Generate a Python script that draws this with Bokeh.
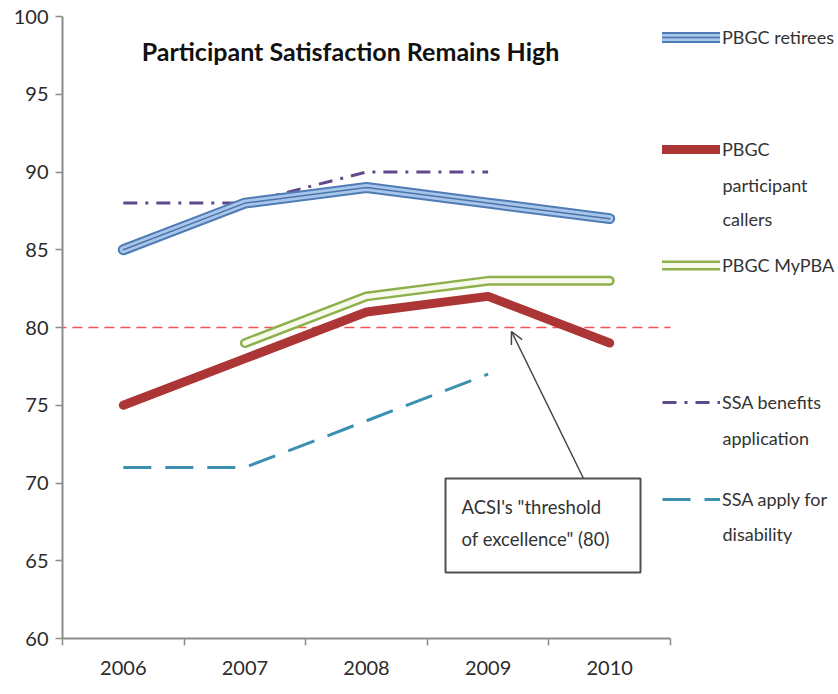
from bokeh.plotting import figure
from bokeh.models import (Range1d, FixedTicker, Legend, LegendItem, Label,
                          BoxAnnotation, Arrow, OpenHead)
from bokeh.embed import file_html
from bokeh.resources import INLINE

# ---------------- data ----------------
years = ["2006", "2007", "2008", "2009", "2010"]
pbgc_retirees = [85, 88, 89, 88, 87]
pbgc_callers = [75, 78, 81, 82, 79]
mypba_years = ["2007", "2008", "2009", "2010"]
pbgc_mypba = [79, 82, 83, 83]
ssa_years = ["2006", "2007", "2008", "2009"]
ssa_benefits = [88, 88, 90, 90]
ssa_disability = [71, 71, 74, 77]
threshold = 80
y_ticks = [60, 65, 70, 75, 80, 85, 90, 95, 100]

title_text = "Participant Satisfaction Remains High"
note_lines = ["ACSI's \"threshold", "of excellence\" (80)"]

FONT = "Lato"

idx = {y: i for i, y in enumerate(years)}
def xs(ys):
    return [idx[y] for y in ys]

# layout constants (px)
W, H = 838, 694
LEFT, TOP, BOTTOM = 62, 16, 56
PLOT_RIGHT_PX = 670           # right end of the category axis
unit = (PLOT_RIGHT_PX - LEFT) / len(years)
x_end = (W - LEFT) / unit - 0.5

p = figure(width=W, height=H, output_backend="svg", toolbar_location=None,
           x_range=Range1d(-0.5, x_end), y_range=Range1d(60, 100),
           min_border_left=LEFT, min_border_top=TOP, min_border_bottom=BOTTOM,
           min_border_right=0)
p.outline_line_color = None
p.grid.visible = False
p.background_fill_color = "white"
p.border_fill_color = "white"

# axes
xa = p.xaxis[0]
xa.ticker = FixedTicker(ticks=list(range(len(years))),
                        minor_ticks=[i - 0.5 for i in range(len(years) + 1)])
xa.major_label_overrides = {i: y for i, y in enumerate(years)}
xa.bounds = (-0.5, len(years) - 0.5)
xa.axis_line_color = "#8c8c8c"
xa.axis_line_width = 2
xa.major_tick_line_color = None
xa.major_tick_out = 0
xa.major_tick_in = 0
xa.minor_tick_line_color = "#8c8c8c"
xa.minor_tick_line_width = 1.5
xa.minor_tick_out = 7
xa.minor_tick_in = 0
xa.major_label_standoff = 15
xa.major_label_text_font = FONT
xa.major_label_text_font_size = "20px"
xa.major_label_text_color = "#2b2b2b"

ya = p.yaxis[0]
ya.ticker = FixedTicker(ticks=y_ticks)
ya.axis_line_color = "#8c8c8c"
ya.axis_line_width = 2
ya.major_tick_line_color = "#8c8c8c"
ya.major_tick_line_width = 1.5
ya.major_tick_out = 7
ya.major_tick_in = 0
ya.minor_tick_line_color = None
ya.major_label_standoff = 7
ya.major_label_text_font = FONT
ya.major_label_text_font_size = "20px"
ya.major_label_text_color = "#2b2b2b"

# threshold line
p.line([-0.55, len(years) - 0.5], [threshold, threshold], line_color="#ff4d4d",
       line_width=1.5, line_dash="10 6")

# series
r_ben = p.line(xs(ssa_years), ssa_benefits, line_color="#5f4b8b", line_width=3,
               line_dash="14 8 3 8")
r_dis = p.line(xs(ssa_years), ssa_disability, line_color="#3b8fb0", line_width=3,
               line_dash="28 14")

r_ret1 = p.line(xs(years), pbgc_retirees, line_color="#4f7cb5", line_width=11,
                line_cap="round", line_join="round")
r_ret2 = p.line(xs(years), pbgc_retirees, line_color="#a8c6ea", line_width=7,
                line_cap="round", line_join="round")
r_ret3 = p.line(xs(years), pbgc_retirees, line_color="#4a74aa", line_width=1.5,
                line_cap="round", line_join="round")

r_my1 = p.line(xs(mypba_years), pbgc_mypba, line_color="#8db04a", line_width=10,
               line_cap="round", line_join="round")
r_my2 = p.line(xs(mypba_years), pbgc_mypba, line_color="#f6f9ec", line_width=5,
               line_cap="round", line_join="round")

r_call = p.line(xs(years), pbgc_callers, line_color="#ac3535", line_width=9,
                line_cap="round", line_join="round")

# title
def dx(px):
    return (px - LEFT) / unit - 0.5
def dy(py):
    return 100 - (py - TOP) / ((H - TOP - BOTTOM) / 40)

p.add_layout(Label(x=dx(350), y=dy(50), text=title_text, text_font=FONT,
                   text_font_style="bold", text_font_size="25px",
                   text_color="#111111", text_align="center",
                   text_baseline="middle"))

# annotation box + arrow
p.add_layout(Arrow(x_start=dx(583), y_start=dy(478), x_end=dx(511), y_end=dy(331),
                   line_color="#444444", line_width=1.5,
                   end=OpenHead(size=12, line_color="#444444", line_width=1.5)))
p.add_layout(BoxAnnotation(left=dx(445), right=dx(640), top=dy(478), bottom=dy(572),
                           fill_color="white", fill_alpha=1,
                           line_color="#505050", line_alpha=1, line_width=2,
                           level="overlay"))
for i, t in enumerate(note_lines):
    p.add_layout(Label(x=dx(461), y=dy(506 + 32 * i), text=t, text_font=FONT,
                       text_font_size="18.5px", text_color="#333333",
                       text_baseline="middle", level="overlay"))

# legends
entries = [
    (["PBGC retirees"], [r_ret1, r_ret2, r_ret3], 38, 0),
    (["PBGC", "participant", "callers"], [r_call], 150, 34),
    (["PBGC MyPBA"], [r_my1, r_my2], 266, 0),
    (["SSA benefits", "application"], [r_ben], 403, 34),
    (["SSA apply for", "disability"], [r_dis], 500, 33),
]
frame_h = H - TOP - BOTTOM
for lines, rends, ycen, step in entries:
    leg = Legend(items=[LegendItem(label=lines[0], renderers=rends)],
                 location=(600, frame_h - (ycen - TOP) - 10),
                 padding=0, margin=0, spacing=0, glyph_width=58,
                 glyph_height=20, label_height=20, label_standoff=2,
                 label_text_font=FONT, label_text_font_size="18px",
                 label_text_color="#333333", border_line_alpha=0,
                 background_fill_alpha=0)
    p.add_layout(leg)
    for k, t in enumerate(lines[1:], start=1):
        p.add_layout(Label(x=dx(722), y=dy(ycen + step * k), text=t,
                           text_font=FONT, text_font_size="18px",
                           text_color="#333333", text_baseline="middle"))

open("out.html", "w").write(file_html(p, INLINE))
